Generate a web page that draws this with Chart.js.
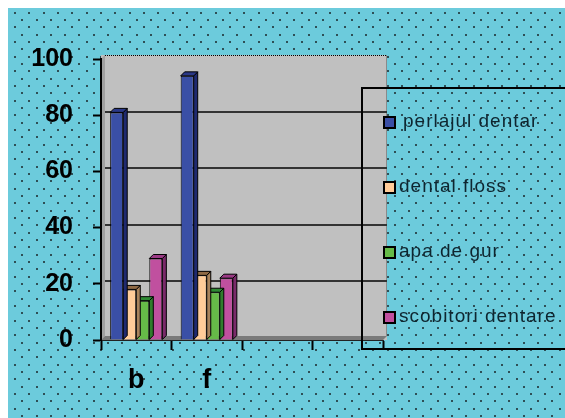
<!DOCTYPE html>
<html>
<head>
<meta charset="utf-8">
<script src="https://cdn.jsdelivr.net/npm/chart.js@4.4.1/dist/chart.umd.min.js"></script>
<style>
  html, body { margin: 0; padding: 0; background: #fff; }
  canvas { display: block; }
</style>
</head>
<body>
<canvas id="chart" width="565" height="418"></canvas>
<script>
// data
const categories = ['b', 'f', '', ''];
const seriesNames = ['perlajul dentar', 'dental floss', 'apa de gur', 'scobitori dentare'];
const perlajul = [81, 94, null, null];
const floss = [18, 23, null, null];
const apa = [14, 17, null, null];
const scobitori = [29, 22, null, null];
const yTicks = [0, 20, 40, 60, 80, 100];

// colours: front, side, top
const frontColors = ['#3a4fa6', '#ffcc99', '#66bb48', '#c0509f'];
const sideColors = ['#1f2a70', '#a8835c', '#2f7d2c', '#7a2a6a'];
const topColors = ['#2a3888', '#8f6a45', '#2e8a34', '#9a3a85'];

const DEPTH = 4;

const background = {
    id: 'background',
    beforeDraw(chart) {
        const ctx = chart.ctx;
        const { left, right, top, bottom } = chart.chartArea;
        const y = chart.scales.y;
        ctx.save();
        ctx.fillStyle = '#fff';
        ctx.fillRect(0, 0, chart.width, chart.height);
        ctx.fillStyle = '#6ccbdc';
        ctx.fillRect(8, 8, chart.width - 8, chart.height - 8);
        // dotted pattern
        ctx.fillStyle = '#2e4f56';
        for (let r = 0; r < 60; r++) {
            const py = 12.7 + r * 7.33;
            const shift = r % 2 ? 7.17 : 0;
            for (let c = 0; c < 42; c++) {
                const px = 15 + shift + c * 14.33;
                if (px > chart.width || py > chart.height) continue;
                ctx.fillRect(Math.round(px) - 1, Math.round(py) - 1, 2, 2);
            }
        }
        // back wall
        ctx.fillStyle = '#c0c0c0';
        ctx.fillRect(left, top - DEPTH, right - left + DEPTH, bottom - top + DEPTH);
        // left side wall
        ctx.fillStyle = '#a0a0a0';
        ctx.beginPath();
        ctx.moveTo(left, top);
        ctx.lineTo(left + DEPTH, top - DEPTH);
        ctx.lineTo(left + DEPTH, bottom - DEPTH);
        ctx.lineTo(left, bottom);
        ctx.closePath();
        ctx.fill();
        // floor
        ctx.fillStyle = '#7a7a7a';
        ctx.beginPath();
        ctx.moveTo(left, bottom);
        ctx.lineTo(left + DEPTH, bottom - DEPTH);
        ctx.lineTo(right + DEPTH, bottom - DEPTH);
        ctx.lineTo(right, bottom);
        ctx.closePath();
        ctx.fill();
        // right edge shade
        ctx.fillStyle = '#8a8a8a';
        ctx.fillRect(right + DEPTH - 1, top - DEPTH, 1, bottom - top);
        // gridlines on the back wall
        ctx.strokeStyle = '#333';
        ctx.lineWidth = 2;
        yTicks.forEach(v => {
            if (v === 0 || v === 100) return;
            const py = Math.round(y.getPixelForValue(v)) - 3;
            ctx.beginPath();
            ctx.moveTo(left + DEPTH, py);
            ctx.lineTo(right + DEPTH, py);
            ctx.stroke();
        });
        // dotted top edge
        ctx.strokeStyle = '#000';
        ctx.lineWidth = 1;
        ctx.setLineDash([1, 1]);
        ctx.beginPath();
        ctx.moveTo(left + DEPTH, top - DEPTH + 0.5);
        ctx.lineTo(right + DEPTH, top - DEPTH + 0.5);
        ctx.stroke();
        ctx.restore();
    }
};

const bars3d = {
    id: 'bars3d',
    afterDatasetDraw(chart, args) {
        const ctx = chart.ctx;
        const i = args.index;
        ctx.save();
        ctx.strokeStyle = '#000';
        ctx.lineWidth = 1;
        args.meta.data.forEach(el => {
            const { x, y, base, width } = el.getProps(['x', 'y', 'base', 'width'], true);
            if (isNaN(y) || y === base) return;
            const l = x - width / 2, r = x + width / 2;
            // side face
            ctx.fillStyle = sideColors[i];
            ctx.beginPath();
            ctx.moveTo(r, y);
            ctx.lineTo(r + DEPTH, y - DEPTH);
            ctx.lineTo(r + DEPTH, base - DEPTH);
            ctx.lineTo(r, base);
            ctx.closePath();
            ctx.fill();
            ctx.stroke();
            // top face
            ctx.fillStyle = topColors[i];
            ctx.beginPath();
            ctx.moveTo(l, y);
            ctx.lineTo(l + DEPTH, y - DEPTH);
            ctx.lineTo(r + DEPTH, y - DEPTH);
            ctx.lineTo(r, y);
            ctx.closePath();
            ctx.fill();
            ctx.stroke();
        });
        ctx.restore();
    }
};

const boxLegend = {
    id: 'boxLegend',
    afterDraw(chart) {
        const ctx = chart.ctx;
        ctx.save();
        ctx.strokeStyle = '#000';
        ctx.lineWidth = 2;
        ctx.strokeRect(362, 88, 220, 261);
        ctx.font = '19px "Liberation Sans", Arial, sans-serif';
        ctx.letterSpacing = '1px';
        ctx.textBaseline = 'middle';
        chart.data.datasets.forEach((ds, i) => {
            const cy = 122 + i * 65;
            ctx.fillStyle = '#000';
            ctx.fillRect(383, cy - 6, 13, 13);
            ctx.fillStyle = ds.backgroundColor;
            ctx.fillRect(385, cy - 4, 9, 9);
            ctx.fillStyle = '#0e2630';
            ctx.fillText(ds.label, i === 0 ? 403 : 399, cy);
        });
        ctx.restore();
    }
};

const seriesValues = [perlajul, floss, apa, scobitori];

new Chart(document.getElementById('chart'), {
    type: 'bar',
    data: {
        labels: categories,
        datasets: seriesNames.map((name, i) => ({
            label: name,
            data: seriesValues[i],
            backgroundColor: frontColors[i],
            borderColor: '#000',
            borderWidth: 1,
            categoryPercentage: 0.74,
            barPercentage: 1
        }))
    },
    options: {
        responsive: false,
        animation: false,
        devicePixelRatio: 1,
        layout: { padding: { left: 0, right: 182, top: 59, bottom: 0 } },
        plugins: {
            legend: { display: false },
            tooltip: { enabled: false }
        },
        scales: {
            x: {
                offset: true,
                grid: { offset: true, drawOnChartArea: false, tickLength: 10, tickColor: '#000', tickWidth: 2 },
                border: { color: '#222', width: 1 },
                ticks: {
                    color: '#000',
                    padding: 14,
                    maxRotation: 0,
                    font: { family: '"Liberation Sans", Arial, sans-serif', size: 27, weight: 'bold' }
                },
                afterFit: s => { s.height = 78; }
            },
            y: {
                min: 0,
                max: 100,
                grid: { drawOnChartArea: false, tickLength: 8, tickColor: '#000', tickWidth: 2 },
                border: { color: '#000', width: 2 },
                ticks: {
                    stepSize: 20,
                    color: '#000',
                    padding: 20,
                    font: { family: '"Liberation Sans", Arial, sans-serif', size: 25, weight: 'bold' }
                },
                afterBuildTicks: s => { s.ticks = yTicks.map(v => ({ value: v })); },
                afterFit: s => { s.width = 101; }
            }
        }
    },
    plugins: [background, bars3d, boxLegend]
});
</script>
</body>
</html>
